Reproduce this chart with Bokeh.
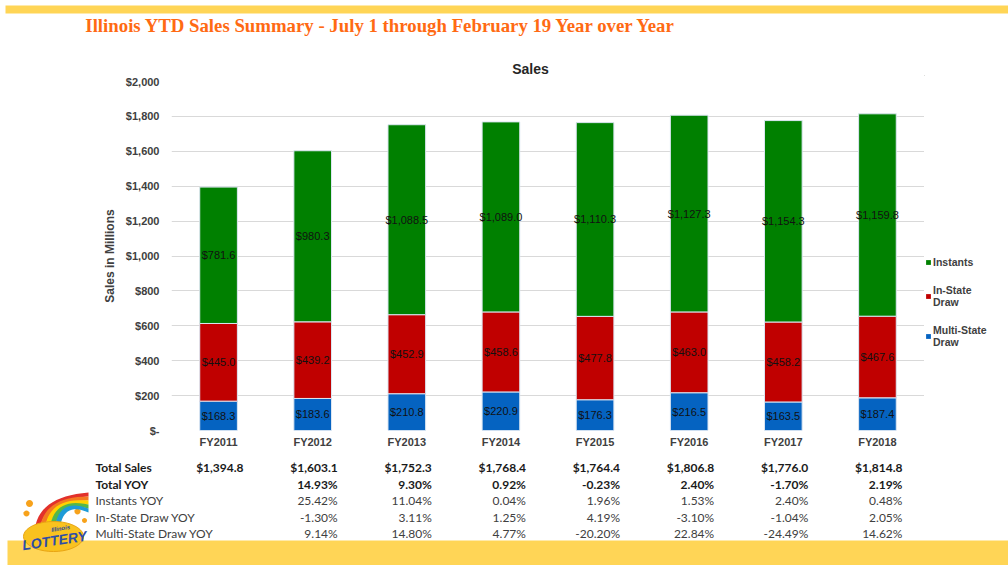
import math
from bokeh.plotting import figure
from bokeh.layouts import column, row
from bokeh.models import (FactorRange, Range1d, Legend, LegendItem, FixedTicker, ColumnDataSource)
from bokeh.core.properties import value
from bokeh.embed import file_html
from bokeh.resources import INLINE

# ---------------- data ----------------
years = ["FY2011", "FY2012", "FY2013", "FY2014", "FY2015", "FY2016", "FY2017", "FY2018"]
multi_state = [168.3, 183.6, 210.8, 220.9, 176.3, 216.5, 163.5, 187.4]
in_state = [445.0, 439.2, 452.9, 458.6, 477.8, 463.0, 458.2, 467.6]
instants = [781.6, 980.3, 1088.5, 1089.0, 1110.3, 1127.3, 1154.3, 1159.8]
total_sales = [1394.8, 1603.1, 1752.3, 1768.4, 1764.4, 1806.8, 1776.0, 1814.8]
total_yoy = ["", "14.93%", "9.30%", "0.92%", "-0.23%", "2.40%", "-1.70%", "2.19%"]
instants_yoy = ["", "25.42%", "11.04%", "0.04%", "1.96%", "1.53%", "2.40%", "0.48%"]
in_state_yoy = ["", "-1.30%", "3.11%", "1.25%", "4.19%", "-3.10%", "-1.04%", "2.05%"]
multi_state_yoy = ["", "9.14%", "14.80%", "4.77%", "-20.20%", "22.84%", "-24.49%", "14.62%"]
row_labels = ["Total Sales", "Total YOY", "Instants YOY", "In-State Draw YOY", "Multi-State Draw YOY"]
y_ticks = [0, 200, 400, 600, 800, 1000, 1200, 1400, 1600, 1800, 2000]
y_tick_labels = ["$-", "$200", "$400", "$600", "$800", "$1,000", "$1,200", "$1,400", "$1,600", "$1,800", "$2,000"]
series_names = ["Multi-State\nDraw", "In-State\nDraw", "Instants"]
title_text = "Illinois YTD Sales Summary  - July 1 through  February  19 Year over Year"
chart_title = "Sales"
y_title = "Sales in Millions"

# ---------------- styles / layout ----------------
C_BLUE, C_RED, C_GREEN = "#0563C1", "#C00000", "#008000"
COLORS = [C_BLUE, C_RED, C_GREEN]
YELLOW = "#FFD556"
ARIAL = "Liberation Sans"
CALIBRI = "Lato"
W, H = 1008, 565
FL, FR, FT, FB = 171, 924, 81, 430   # plot frame (pixels)
TOP_H = 75                            # header strip height
MAIN_B = 455                          # bottom of main chart figure
BAND_Y = 540                          # start of bottom band
YMAX = 2000


def blank(width, height, xr, yr):
    f = figure(width=width, height=height, x_range=xr, y_range=yr, output_backend="svg",
               toolbar_location=None, x_axis_type=None, y_axis_type=None,
               min_border=0, frame_align=False)
    f.outline_line_color = None
    f.xgrid.visible = False
    f.ygrid.visible = False
    return f


# ---------- header: band, title, chart title ----------
top = blank(W, TOP_H, Range1d(0, W), Range1d(TOP_H, 0))
top.quad(left=5, right=W, top=5, bottom=13, fill_color=YELLOW, line_color=None)
top.text(x=[387.5], y=[25], text=[title_text], text_font=value("Liberation Serif"),
         text_font_style="bold", text_font_size="18.8px", text_color="#FF6A13",
         text_align="center", text_baseline="middle")
top.text(x=[530], y=[68], text=[chart_title], text_font=value(ARIAL),
         text_font_style="bold", text_font_size="14px", text_color="#262626",
         text_align="center", text_baseline="middle")

# ---------- main chart ----------
src = ColumnDataSource(dict(
    year=years, ms=multi_state, ins=in_state, inst=instants,
    mid_ms=[m / 2 for m in multi_state],
    mid_is=[m + i / 2 for m, i in zip(multi_state, in_state)],
    mid_in=[m + i + s / 2 for m, i, s in zip(multi_state, in_state, instants)],
    t_ms=["${:,.1f}".format(v) for v in multi_state],
    t_is=["${:,.1f}".format(v) for v in in_state],
    t_in=["${:,.1f}".format(v) for v in instants],
    total=["${:,.1f}".format(v) for v in total_sales],
    tyoy=total_yoy, iyoy=instants_yoy, syoy=in_state_yoy, myoy=multi_state_yoy,
))

p = figure(x_range=FactorRange(*years, range_padding=0), y_range=Range1d(0, YMAX),
           width=FR, height=MAIN_B - TOP_H, frame_align=False,
           output_backend="svg", toolbar_location=None,
           min_border_left=FL, min_border_right=0,
           min_border_top=FT - TOP_H, min_border_bottom=MAIN_B - FB)
p.outline_line_color = None

rs = p.vbar_stack(["ms", "ins", "inst"], x="year", width=0.4, source=src,
                  color=COLORS, line_color="#DCE6F2", line_width=1)

for ycol, tcol in [("mid_ms", "t_ms"), ("mid_is", "t_is"), ("mid_in", "t_in")]:
    p.text(x="year", y=ycol, text=tcol, source=src, text_align="center",
           text_baseline="middle", text_font=value(ARIAL), text_font_size="11px",
           text_color="#111111")

p.yaxis.ticker = FixedTicker(ticks=y_ticks)
p.yaxis.major_label_overrides = {t: l for t, l in zip(y_ticks, y_tick_labels)}
for ax in (p.xaxis[0], p.yaxis[0]):
    ax.axis_line_color = None
    ax.major_tick_line_color = None
    ax.minor_tick_line_color = None
    ax.major_tick_out = 0
    ax.major_tick_in = 0
    ax.major_label_text_font = ARIAL
    ax.major_label_text_font_style = "bold"
    ax.major_label_text_font_size = "11px"
    ax.major_label_text_color = "#404040"
p.yaxis.major_label_standoff = 12
p.xaxis.major_label_standoff = 5
p.yaxis.axis_label = y_title
p.yaxis.axis_label_text_font = ARIAL
p.yaxis.axis_label_text_font_style = "bold"
p.yaxis.axis_label_text_font_size = "12px"
p.yaxis.axis_label_text_color = "#404040"
p.yaxis.axis_label_standoff = 6
p.xgrid.grid_line_color = None
p.ygrid.grid_line_color = "#D9D9D9"

# ---------- legend strip at the right of the chart ----------
leg = blank(W - FR, MAIN_B - TOP_H, Range1d(0, W - FR), Range1d(MAIN_B, TOP_H))
# swatch renderers: zero-height, outline-free bars, so only the legend shows their colour
swatch = [leg.vbar(x=[-500], top=[-500], bottom=[-500], width=1, fill_color=c, line_color=None)
          for c in COLORS]
legend = Legend(items=[LegendItem(label=series_names[2], renderers=[swatch[2]]),
                       LegendItem(label=series_names[1], renderers=[swatch[1]]),
                       LegendItem(label=series_names[0], renderers=[swatch[0]])],
                location=(1, 107), padding=0, margin=0, spacing=16,
                glyph_width=6, glyph_height=6, label_standoff=2, label_height=10,
                label_text_font=ARIAL, label_text_font_style="bold",
                label_text_font_size="10.5px", label_text_color="#404040",
                border_line_color=None, background_fill_alpha=0)
leg.add_layout(legend, "center")

# ---------- table, row labels, logo, bottom band ----------
BOT_H = H - MAIN_B
unit = (FR - FL) / len(years)                 # pixels per category
pad = (W / unit - len(years)) / 2             # symmetric padding so that one unit == one column
shift = FL - pad * unit                       # pixel shift between padded range and plot frame


def cx(px):
    """pixel position -> synthetic categorical coordinate of the bottom strip"""
    return px / unit - pad


rows_y = [467, 483.5, 500, 516.5, 533]
row_cols = ["total", "tyoy", "iyoy", "syoy", "myoy"]

bot = figure(x_range=FactorRange(*years, range_padding=pad, range_padding_units="absolute"),
             y_range=Range1d(H, MAIN_B), width=W, height=BOT_H,
             output_backend="svg", toolbar_location=None, x_axis_type=None, y_axis_type=None,
             min_border=0, frame_align=False)
bot.outline_line_color = None
bot.xgrid.visible = False
bot.ygrid.visible = False

bot.quad(left=cx(7), right=cx(W), top=BAND_Y, bottom=H, fill_color=YELLOW, line_color=None)

for k, (col, ry) in enumerate(zip(row_cols, rows_y)):
    bold = k < 2
    bot.text(x="year", y=ry, text=col, source=src, x_offset=shift + 25,
             text_font=value(CALIBRI), text_font_style="bold" if bold else "normal",
             text_font_size="12px", text_color="#1A1A1A" if bold else "#404040",
             text_align="right", text_baseline="middle")

bot.text(x=[cx(95)] * len(row_labels), y=rows_y, text=row_labels, text_font=value(CALIBRI),
         text_font_style=["bold", "bold", "normal", "normal", "normal"],
         text_font_size="12px", text_color=["#1A1A1A", "#1A1A1A", "#404040", "#404040", "#404040"],
         text_align="left", text_baseline="middle")


def ellipse(ex, ey, rx, ry, n=40):
    return ([cx(ex + rx * math.cos(2 * math.pi * i / n)) for i in range(n)],
            [ey + ry * math.sin(2 * math.pi * i / n) for i in range(n)])


def bez(p0, p1, p2, n=16):
    xs, ys = [], []
    for i in range(n + 1):
        t = i / n
        xs.append(cx((1 - t) ** 2 * p0[0] + 2 * (1 - t) * t * p1[0] + t * t * p2[0]))
        ys.append((1 - t) ** 2 * p0[1] + 2 * (1 - t) * t * p1[1] + t * t * p2[1])
    return xs, ys


rainbow = ["#E2312B", "#F47B20", "#FFD200", "#55B748", "#1E9BD7"]
rx_, ry_ = [], []
for k in range(len(rainbow)):
    ax_, ay_ = bez((34 + 5 * k, 532), (36 + 5 * k, 496), (88, 492 + 4 * k))
    bx_, by_ = bez((39 + 5 * k, 532), (41 + 5 * k, 500), (88, 496 + 4 * k))
    rx_.append(ax_ + bx_[::-1])
    ry_.append(ay_ + by_[::-1])
dots = [ellipse(dx, dy, r, r, 16) for dx, dy, r in [(29, 503, 3.5), (26, 513, 3), (77, 511, 3), (84, 520, 2.5)]]
bot.patches([d[0] for d in dots], [d[1] for d in dots], fill_color="#F7A21B", line_color=None)
bot.patches(rx_, ry_, fill_color=rainbow, line_color=None)
ex, ey = ellipse(53, 536, 30, 15)
bot.patch(ex, ey, fill_color="#F9C21F", line_color="#E8A412", line_width=1)
bot.text(x=[cx(60)], y=[528], text=["Illinois"], text_font=value(ARIAL), text_font_style="bold italic",
         text_font_size="6px", text_color="#2B4C9B", text_align="center", text_baseline="middle",
         angle=0.15)
bot.text(x=[cx(54)], y=[540], text=["LOTTERY"], text_font=value(ARIAL), text_font_style="bold italic",
         text_font_size="14px", text_color="#2E4DA7", text_align="center", text_baseline="middle",
         angle=0.15)

layout = column(top, row(p, leg), bot)
open("out.html", "w").write(file_html(layout, INLINE))
